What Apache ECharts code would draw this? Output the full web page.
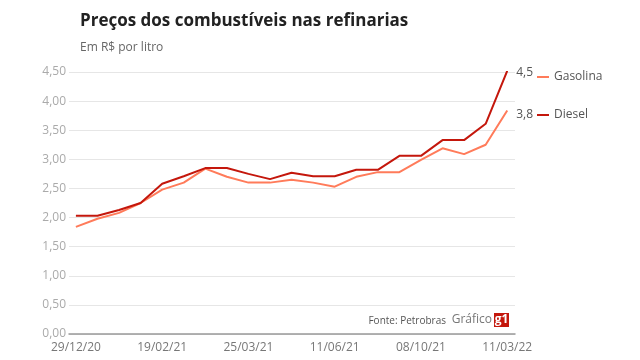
<!DOCTYPE html>
<html><head><meta charset="utf-8">
<script src="https://cdn.jsdelivr.net/npm/echarts@6/dist/echarts.min.js"></script>
<style>html,body{margin:0;padding:0;background:#fff}#c{width:640px;height:360px}</style>
</head><body><div id="c"></div>
<script>
const dates = ['29/12/20','19/01/21','09/02/21','12/02/21','19/02/21','02/03/21','09/03/21','16/03/21','25/03/21','15/04/21','01/05/21','20/05/21','11/06/21','06/07/21','13/08/21','28/09/21','08/10/21','26/10/21','15/12/21','12/01/22','11/03/22'];
const tickIdx = [0,4,8,12,16,20];
const gasolina = [1.84,1.98,2.08,2.25,2.48,2.60,2.84,2.70,2.60,2.60,2.65,2.60,2.53,2.70,2.78,2.78,2.99,3.19,3.09,3.25,3.84];
const diesel = [2.03,2.03,2.13,2.25,2.58,2.71,2.85,2.85,2.75,2.66,2.77,2.71,2.71,2.82,2.82,3.06,3.06,3.33,3.33,3.61,4.52];

const F = '"Open Sans", sans-serif';
const toPairs = a => a.map((v,i)=>[i,v]);
const chart = echarts.init(document.getElementById('c'));
const endFmt = p => (Math.floor(p.value[1]*10)/10).toFixed(1).replace('.',',');
chart.setOption({
  animation:false,
  textStyle:{fontFamily:F},
  title:{text:'Preços dos combustíveis nas refinarias',subtext:'Em R$ por litro',left:75,top:8,itemGap:12,
    textStyle:{fontFamily:F,fontSize:17,fontWeight:'bold',color:'#222'},
    subtextStyle:{fontFamily:F,fontSize:12,color:'#666'}},
  legend:{orient:'vertical',left:532,top:66,itemGap:26,icon:'rect',itemWidth:12,itemHeight:2,
    textStyle:{fontFamily:F,fontSize:12,color:'#555'},data:['Gasolina','Diesel']},
  grid:{left:69,right:125,top:72,bottom:26},
  xAxis:{type:'value',min:-0.32,max:20.36,
    axisLine:{show:true,lineStyle:{color:'#999',width:1.5}},
    axisTick:{show:false},splitLine:{show:false},
    axisLabel:{customValues:tickIdx,formatter:v=>dates[v],color:'#777',fontSize:12,margin:8}},
  yAxis:{type:'value',min:0,max:4.5,interval:0.5,
    axisLine:{show:false},axisTick:{show:false},
    splitLine:{lineStyle:{color:'#e6e6e6',width:1}},
    axisLabel:{formatter:v=>v.toFixed(2).replace('.',','),color:'#aaa',fontSize:12,margin:3}},
  series:[
    {name:'Gasolina',type:'line',data:toPairs(gasolina),symbol:'none',
     lineStyle:{color:'#ff7b5a',width:2},itemStyle:{color:'#ff7b5a'},
     endLabel:{show:true,formatter:endFmt,color:'#555',fontSize:12,offset:[1,4]}},
    {name:'Diesel',type:'line',data:toPairs(diesel),symbol:'none',
     lineStyle:{color:'#c4170c',width:2},itemStyle:{color:'#c4170c'},
     endLabel:{show:true,formatter:endFmt,color:'#555',fontSize:12,offset:[1,2]}}
  ],
  graphic:[
    {type:'text',style:{x:446,y:321,text:'Fonte: Petrobras',font:'10px '+F,fill:'#555',align:'right',verticalAlign:'middle'}},
    {type:'text',style:{x:492,y:320,text:'Gráfico',font:'12px '+F,fill:'#777',align:'right',verticalAlign:'middle'}},
    {type:'rect',shape:{x:494,y:313,width:15,height:14},style:{fill:'#c4170c'}},
    {type:'text',style:{x:501.5,y:320,text:'g1',font:'bold 12px '+F,fill:'#fff',align:'center',verticalAlign:'middle'}}
  ]
});
</script></body></html>
